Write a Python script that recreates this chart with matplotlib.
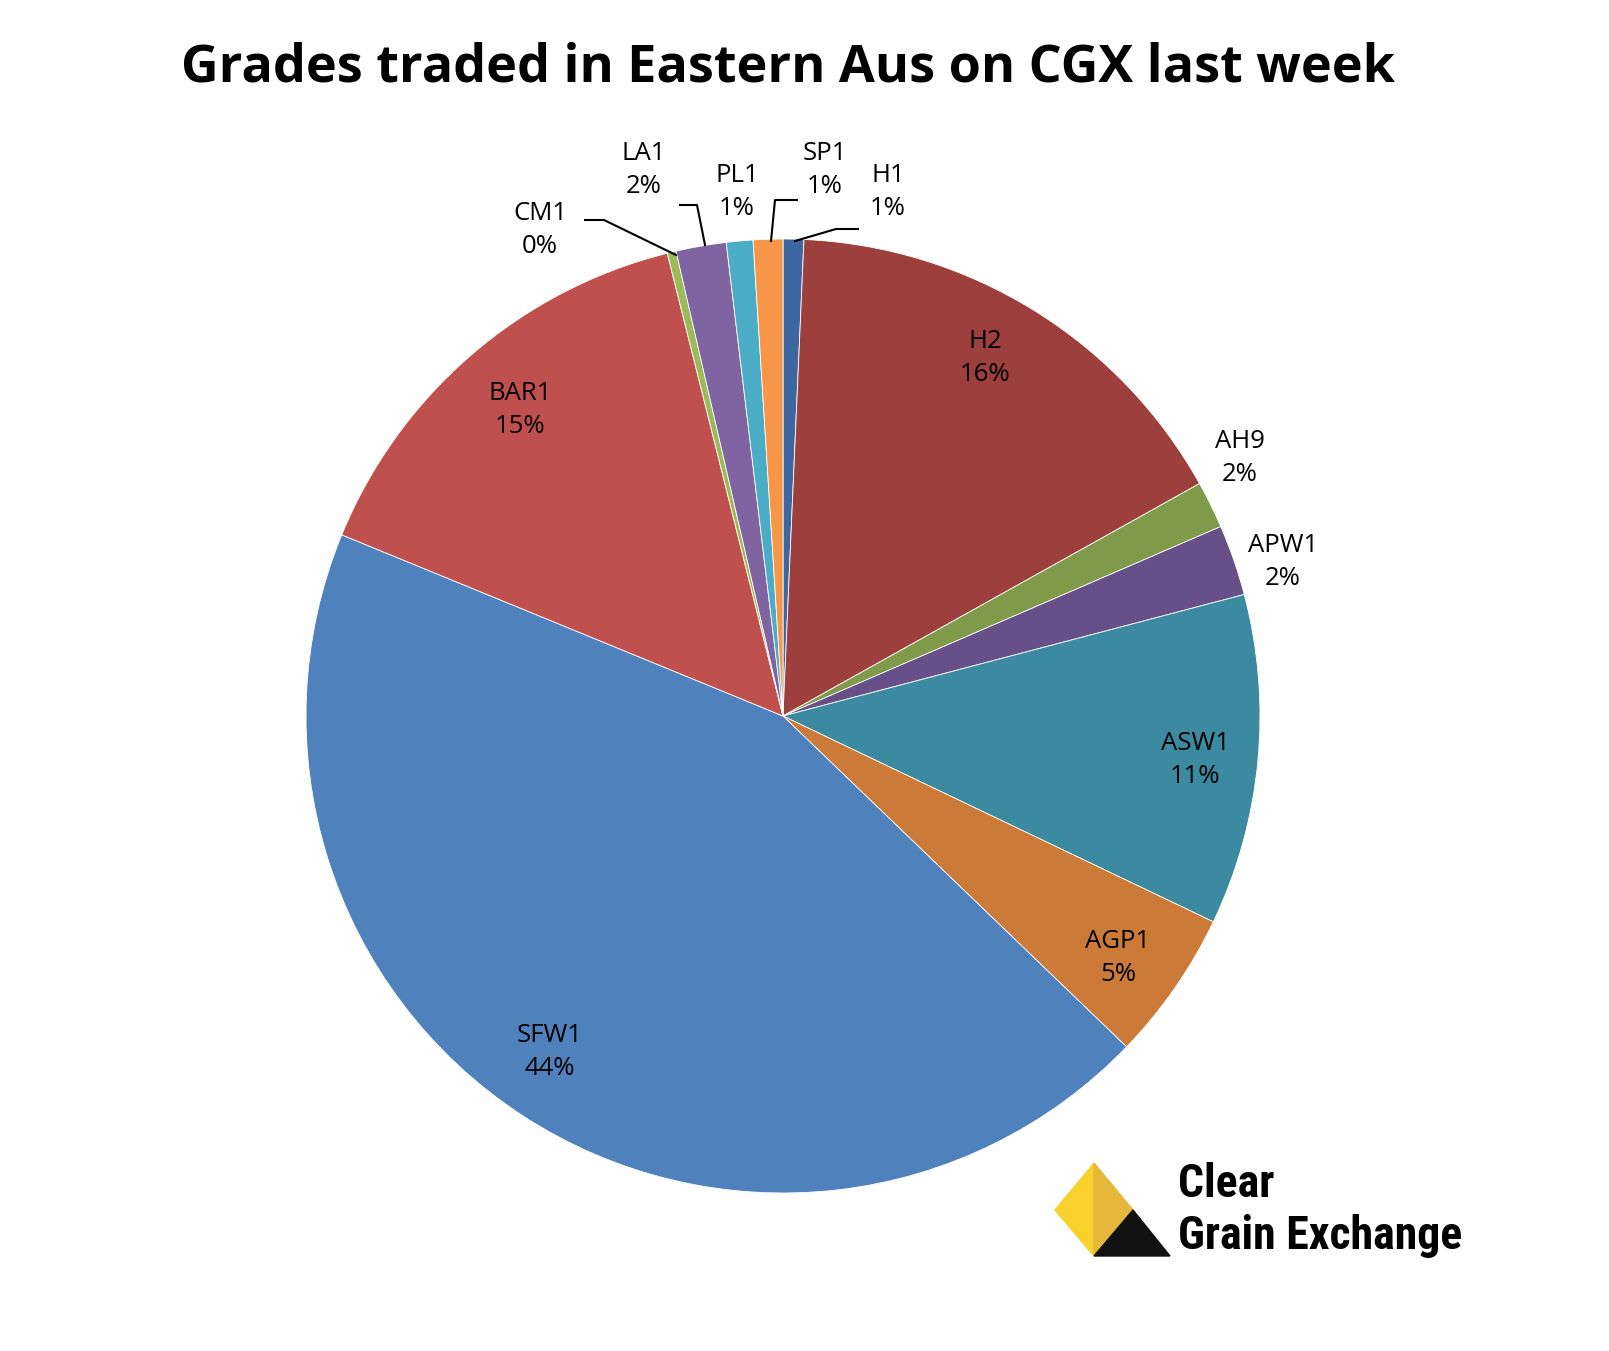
import matplotlib
matplotlib.use("Agg")
import matplotlib.pyplot as plt
from matplotlib.patches import Polygon

labels = ["H1","H2","AH9","APW1","ASW1","AGP1","SFW1","BAR1","CM1","LA1","PL1","SP1"]
values = [0.7,16.2,1.6,2.4,11.2,5.1,44.0,14.9,0.3,1.7,0.9,1.0]
pct_text = ["1%","16%","2%","2%","11%","5%","44%","15%","0%","2%","1%","1%"]
colors = ["#3E66A0","#9C3F3D","#7F9A48","#674F87","#3B8AA0","#CB7A38",
          "#4F81BD","#C0504D","#9BBB59","#8064A2","#4BACC6","#F79646"]

plt.rcParams['font.family'] = ['Open Sans', 'DejaVu Sans']
W, H = 1609, 1351
CX, CY, R = 783, 716, 477
fig = plt.figure(figsize=(W/100, H/100), dpi=100)
ax = fig.add_axes([0, 0, 1, 1])

ax.pie(values, colors=colors, startangle=-90, counterclock=True, radius=R,
       center=(CX, CY), frame=True, wedgeprops=dict(linewidth=0.6, edgecolor="white"))
ax.set_xlim(0, W); ax.set_ylim(H, 0); ax.axis("off")
ax.set_aspect("equal")

fs = 18.5
label_pos = {"H2":(985,358),"BAR1":(520,410),"SFW1":(550,1052),"AGP1":(1118,958),
             "ASW1":(1195,760),"AH9":(1240,458),"APW1":(1283,562),"H1":(888,192),
             "SP1":(825,170),"PL1":(737,192),"LA1":(644,170),"CM1":(540,230)}
for lab, p in zip(labels, pct_text):
    x, y = label_pos[lab]
    ax.text(x, y, f"{lab}\n{p}", ha="center", va="center", fontsize=fs,
            linespacing=1.4, color="black")

leaders = [[(795,241),(836,229),(858,229)],
           [(771,241),(775,200),(797,200)],
           [(705,245),(697,205),(680,205)],
           [(676,255),(604,220),(585,220)]]
for pts in leaders:
    xs, ys = zip(*pts)
    ax.plot(xs, ys, color="black", lw=1.5)

ax.text(788, 68, "Grades traded in Eastern Aus on CGX last week", ha="center",
        va="center", fontsize=37.5, fontweight="bold")

ax.add_patch(Polygon([(1094,1163),(1055,1210),(1094,1256)], closed=True, color="#FAD02C"))
ax.add_patch(Polygon([(1094,1163),(1133,1210),(1094,1256)], closed=True, color="#E5B83C"))
ax.add_patch(Polygon([(1133,1210),(1170,1256),(1094,1256)], closed=True, color="#111111"))
lf = ["Roboto Condensed","Liberation Sans Narrow","DejaVu Sans"]
ax.text(1178, 1184, "Clear", fontsize=33, fontweight="bold", va="center", ha="left", family=lf)
ax.text(1178, 1236, "Grain Exchange", fontsize=33, fontweight="bold", va="center", ha="left", family=lf)

fig.savefig("out.png", dpi=100)
